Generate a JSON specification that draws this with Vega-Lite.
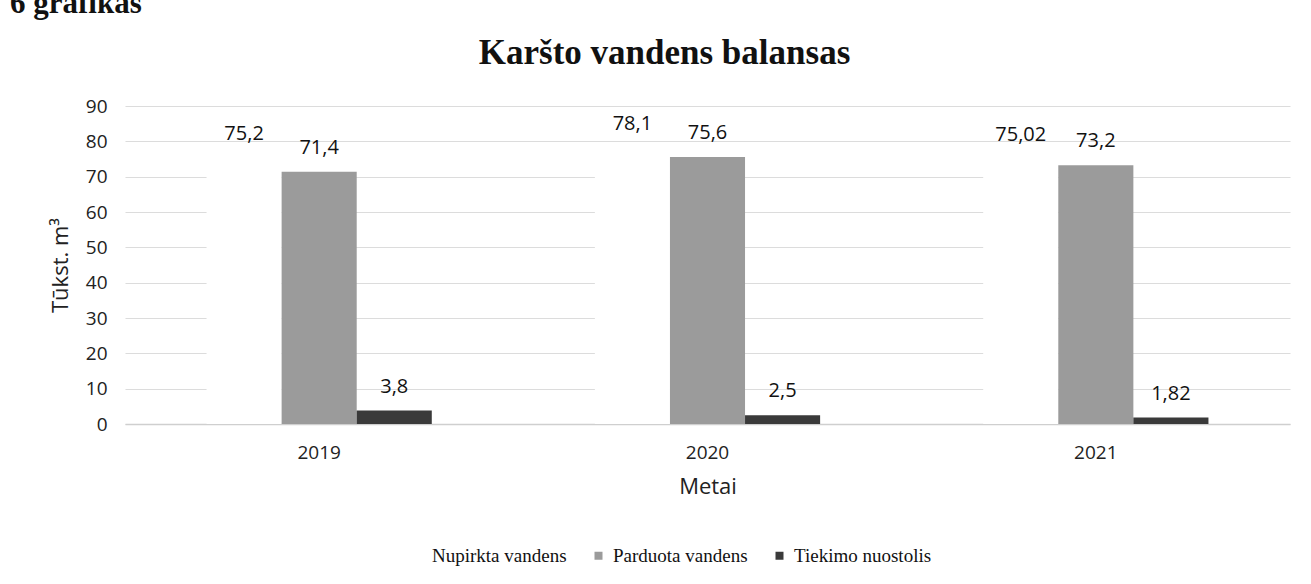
{
  "$schema": "https://vega.github.io/schema/vega-lite/v6.json",
  "autosize": {"type": "none"},
  "padding": {"left": 125, "top": 106, "right": 21, "bottom": 160},
  "background": "white",
  "width": 1165,
  "height": 318,
  "title": {"text": "6 grafikas", "anchor": "start", "frame": "group", "font": "Liberation Serif", "fontSize": 31, "fontWeight": "bold", "color": "#111111", "dx": -115, "dy": -9, "offset": 6},
  "data": {
    "values": [
      {"metai": "2019", "serija": "Nupirkta vandens", "reiksme": 75.2, "zyme": "75,2"},
      {"metai": "2019", "serija": "Parduota vandens", "reiksme": 71.4, "zyme": "71,4"},
      {"metai": "2019", "serija": "Tiekimo nuostolis", "reiksme": 3.8, "zyme": "3,8"},
      {"metai": "2020", "serija": "Nupirkta vandens", "reiksme": 78.1, "zyme": "78,1"},
      {"metai": "2020", "serija": "Parduota vandens", "reiksme": 75.6, "zyme": "75,6"},
      {"metai": "2020", "serija": "Tiekimo nuostolis", "reiksme": 2.5, "zyme": "2,5"},
      {"metai": "2021", "serija": "Nupirkta vandens", "reiksme": 75.02, "zyme": "75,02"},
      {"metai": "2021", "serija": "Parduota vandens", "reiksme": 73.2, "zyme": "73,2"},
      {"metai": "2021", "serija": "Tiekimo nuostolis", "reiksme": 1.82, "zyme": "1,82"}
    ]
  },
  "encoding": {
    "xOffset": {"field": "serija", "type": "nominal", "sort": ["Nupirkta vandens", "Parduota vandens", "Tiekimo nuostolis"], "scale": {"paddingInner": 0}},
    "y": {"field": "reiksme", "type": "quantitative", "title": "Tūkst. m³",
          "scale": {"domain": [0, 90]},
          "axis": {"values": [0, 10, 20, 30, 40, 50, 60, 70, 80, 90], "labelFont": "Open Sans", "labelFontSize": 19, "labelColor": "#222222", "labelPadding": 18,
                   "titleFont": "Open Sans", "titleFontSize": 22, "titleFontWeight": "normal", "titleColor": "#222222", "titlePadding": 13,
                   "ticks": false, "domain": false, "gridColor": "#dcdcdc", "gridWidth": 1.2}}
  },
  "layer": [
    {
      "mark": {"type": "bar"},
      "encoding": {
        "x": {"field": "metai", "type": "nominal", "title": "Metai",
              "scale": {"paddingInner": 0.42, "paddingOuter": 0.21},
              "axis": {"orient": "bottom", "labelAngle": 0, "labelFont": "Open Sans", "labelFontSize": 19, "labelColor": "#222222", "labelPadding": 19,
                       "titleFont": "Open Sans", "titleFontSize": 22, "titleFontWeight": "normal", "titleColor": "#222222", "titlePadding": 14,
                       "ticks": false, "domainColor": "#cfcfcf", "domainWidth": 1.5}},
        "color": {"field": "serija", "type": "nominal", "title": null,
                  "sort": ["Nupirkta vandens", "Parduota vandens", "Tiekimo nuostolis"],
                  "scale": {"domain": ["Nupirkta vandens", "Parduota vandens", "Tiekimo nuostolis"], "range": ["#ffffff", "#9b9b9b", "#3a3a3a"]},
                  "legend": {"orient": "none", "legendX": 283, "legendY": 440, "direction": "horizontal", "symbolType": "square", "symbolSize": 64,
                             "symbolStrokeWidth": 0, "labelFont": "Liberation Serif", "labelFontSize": 19, "labelColor": "#111111", "columnPadding": 22, "symbolOffset": 0, "labelOffset": 5}}
      }
    },
    {
      "mark": {"type": "text", "baseline": "bottom", "dy": -14, "font": "Open Sans", "fontSize": 20, "color": "#111111"},
      "encoding": {
        "x": {"field": "metai", "type": "nominal", "title": "Karšto vandens balansas",
              "axis": {"orient": "top", "labels": false, "ticks": false, "domain": false, "grid": false, "titleX": 539,
                       "titleFont": "Liberation Serif", "titleFontSize": 35, "titleFontWeight": "bold", "titleColor": "#111111", "titlePadding": 36}},
        "text": {"field": "zyme"}
      }
    }
  ],
  "resolve": {"axis": {"x": "independent"}},
  "config": {"view": {"stroke": null}}
}
